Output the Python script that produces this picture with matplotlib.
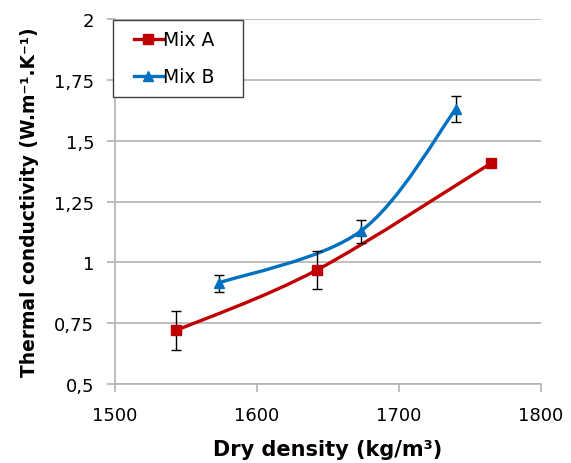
import numpy as np
import matplotlib
matplotlib.use("Agg")
import matplotlib.pyplot as plt
from matplotlib.path import Path
from matplotlib.patches import PathPatch
from matplotlib.lines import Line2D
from matplotlib.legend_handler import HandlerLine2D

plt.rcParams['font.family'] = ['DejaVu Sans']

# Data
mix_a_x = [1543, 1642, 1765]
mix_a_y = [0.72, 0.968, 1.408]
mix_a_err = [0.082, 0.078, 0.012]

mix_b_x = [1573, 1673, 1740]
mix_b_y = [0.915, 1.128, 1.630]
mix_b_err = [0.035, 0.047, 0.055]

x_ticks = [1500, 1600, 1700, 1800]
y_ticks = [0.5, 0.75, 1.0, 1.25, 1.5, 1.75, 2.0]
y_tick_labels = ['0,5', '0,75', '1', '1,25', '1,5', '1,75', '2']

RED = '#C00000'
BLUE = '#0070C0'


def smooth_path(xs, ys):
    """Catmull-Rom style Bezier through points (like Excel smoothed line)."""
    pts = np.column_stack([xs, ys]).astype(float)
    n = len(pts)
    verts = [pts[0]]
    codes = [Path.MOVETO]
    for i in range(n - 1):
        p0 = pts[i - 1] if i > 0 else pts[i]
        p1 = pts[i]
        p2 = pts[i + 1]
        p3 = pts[i + 2] if i + 2 < n else pts[i + 1]
        c1 = p1 + (p2 - p0) / 6.0
        c2 = p2 - (p3 - p1) / 6.0
        verts += [c1, c2, p2]
        codes += [Path.CURVE4] * 3
    return Path(verts, codes)


fig = plt.figure(figsize=(5.71, 4.64), dpi=100)
ax = fig.add_axes([115 / 571, 1 - 385 / 464, (541 - 115) / 571, (385 - 20) / 464])

for xs, ys, errs, col, mk, ms in [
    (mix_a_x, mix_a_y, mix_a_err, RED, 's', 7),
    (mix_b_x, mix_b_y, mix_b_err, BLUE, '^', 7),
]:
    ax.add_patch(PathPatch(smooth_path(xs, ys), facecolor='none', edgecolor=col,
                           lw=2.4, zorder=3, capstyle='round'))
    ax.errorbar(xs, ys, yerr=errs, fmt='none', ecolor='black', elinewidth=1.0,
                capsize=3.5, capthick=1.0, zorder=4)
    ax.plot(xs, ys, linestyle='none', marker=mk, markersize=ms, color=col,
            markeredgecolor=col, zorder=5)

ax.set_xlim(1500, 1800)
ax.set_ylim(0.5, 2.0)
ax.set_xticks(x_ticks)
ax.set_xticklabels([str(t) for t in x_ticks])
ax.set_yticks(y_ticks)
ax.set_yticklabels(y_tick_labels)

ax.yaxis.grid(True, color='#b3b3b3', linewidth=1.2)
ax.set_axisbelow(True)
for s in ['top', 'right']:
    ax.spines[s].set_visible(False)
for s in ['left', 'bottom']:
    ax.spines[s].set_color('#b3b3b3')
    ax.spines[s].set_linewidth(1.2)
ax.tick_params(axis='both', colors='#b3b3b3', labelcolor='black', labelsize=13,
               length=6, width=1.2)
ax.tick_params(axis='x', pad=10)
ax.tick_params(axis='y', pad=9)

ax.set_xlabel('Dry density (kg/m³)', fontsize=15, fontweight='bold', labelpad=11)
ax.set_ylabel('Thermal conductivity (W.m⁻¹.K⁻¹)', fontsize=13.4,
              fontweight='bold', labelpad=11)

h_a = Line2D([], [], color=RED, lw=2.4, marker='s', markersize=7)
h_b = Line2D([], [], color=BLUE, lw=2.4, marker='^', markersize=7)
leg = ax.legend([h_a, h_b], ['Mix A   ', 'Mix B   '], loc='upper left',
                bbox_to_anchor=(-0.005, 0.997), borderaxespad=0, fontsize=13.5,
                handlelength=2.1, handletextpad=0.05, borderpad=0.55,
                labelspacing=0.95, fancybox=False, framealpha=1,
                handler_map={Line2D: HandlerLine2D(xpad=0.6)})
leg.get_frame().set_edgecolor('#404040')
leg.get_frame().set_linewidth(1.0)

fig.savefig('out.png', dpi=100)
